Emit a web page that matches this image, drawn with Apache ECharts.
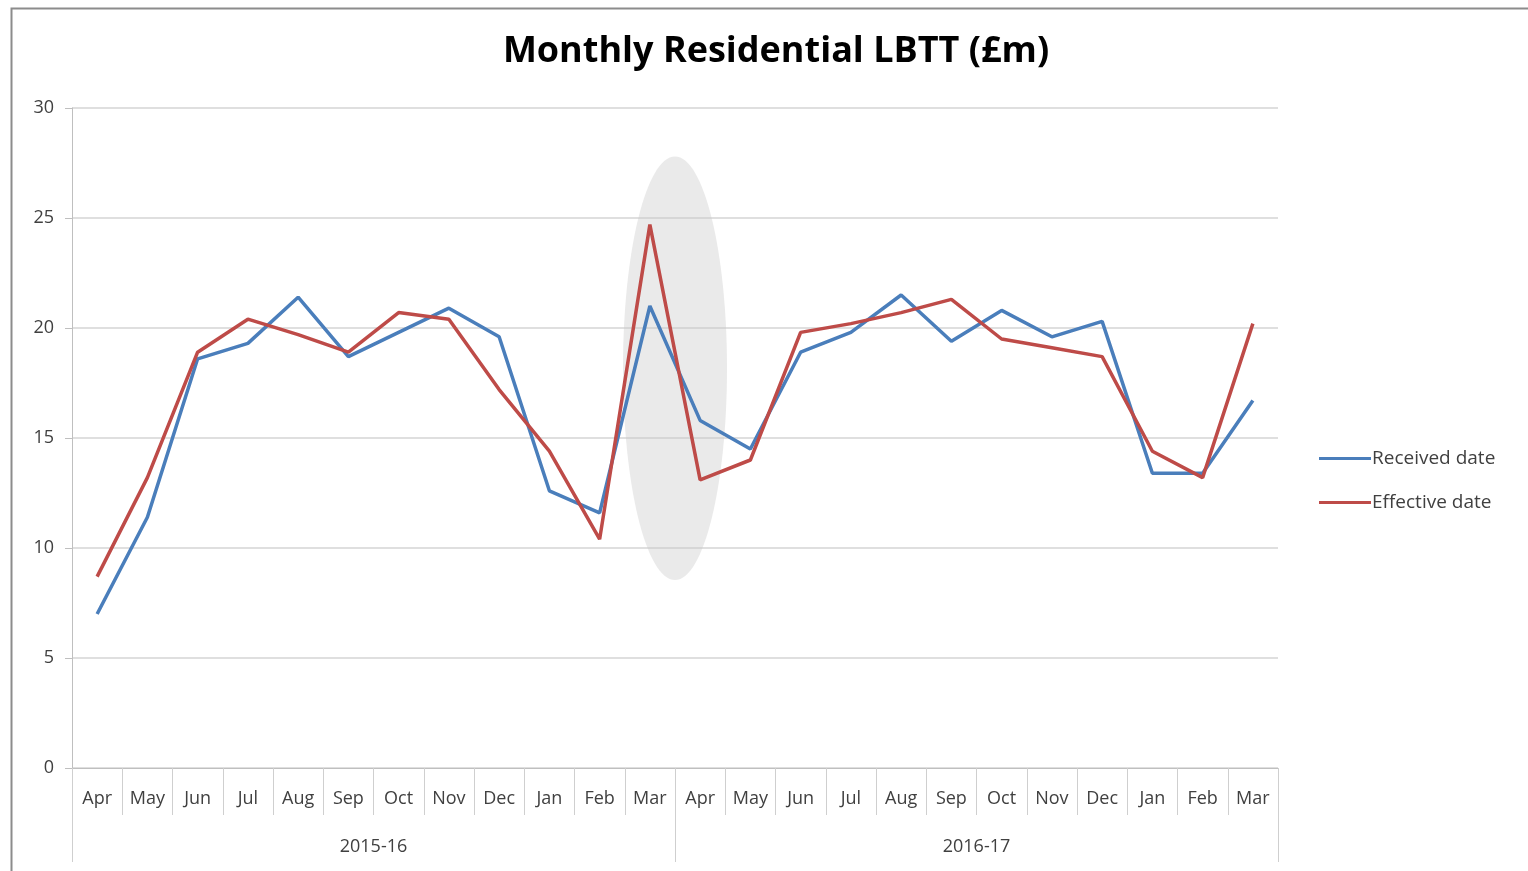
<!DOCTYPE html>
<html>
<head>
<meta charset="utf-8">
<title>Monthly Residential LBTT</title>
<script src="https://cdn.jsdelivr.net/npm/echarts@6/dist/echarts.min.js"></script>
<style>
html, body { margin: 0; padding: 0; background: #fff; }
#chart { width: 1528px; height: 871px; }
</style>
</head>
<body>
<div id="chart"></div>
<script>
// month labels, two financial years
const months = ['Apr', 'May', 'Jun', 'Jul', 'Aug', 'Sep', 'Oct', 'Nov', 'Dec', 'Jan', 'Feb', 'Mar',
  'Apr', 'May', 'Jun', 'Jul', 'Aug', 'Sep', 'Oct', 'Nov', 'Dec', 'Jan', 'Feb', 'Mar']
const years = ['2015-16', '2016-17']
// £m
const receivedData = [7.0, 11.4, 18.6, 19.3, 21.4, 18.7, 19.8, 20.9, 19.6, 12.6, 11.6, 21.0,
  15.8, 14.5, 18.9, 19.8, 21.5, 19.4, 20.8, 19.6, 20.3, 13.4, 13.4, 16.7]
const effectiveData = [8.7, 13.2, 18.9, 20.4, 19.7, 18.9, 20.7, 20.4, 17.2, 14.4, 10.4, 24.7,
  13.1, 14.0, 19.8, 20.2, 20.7, 21.3, 19.5, 19.1, 18.7, 14.4, 13.2, 20.2]
const yTicks = [0, 5, 10, 15, 20, 25, 30]

const labelFont = 'Open Sans'
const chart = echarts.init(document.getElementById('chart'))

chart.setOption({
  animation: false,
  title: {
    text: 'Monthly Residential LBTT (£m)',
    left: 771,
    top: 29,
    textAlign: 'center',
    textStyle: { fontFamily: labelFont, fontSize: 36, fontWeight: 'bold', color: '#000' }
  },
  legend: {
    orient: 'vertical',
    left: 1314,
    top: 444,
    itemWidth: 52,
    itemHeight: 3,
    itemGap: 25,
    icon: 'rect',
    textStyle: { fontFamily: labelFont, fontSize: 19, color: '#404040', padding: [0, 0, 0, -4] },
    data: ['Received date', 'Effective date']
  },
  grid: { left: 72, right: 250, top: 108, bottom: 103 },
  xAxis: [
    {
      type: 'category',
      data: months,
      boundaryGap: true,
      axisLine: { show: true, lineStyle: { color: '#bfbfbf', width: 1 } },
      axisTick: { show: true, interval: 0, length: 47, lineStyle: { color: '#cfcfcf', width: 1 } },
      axisLabel: { interval: 0, margin: 22, fontFamily: labelFont, fontSize: 18, color: '#404040' },
      splitLine: { show: false }
    },
    {
      type: 'category',
      data: years,
      position: 'bottom',
      boundaryGap: true,
      axisLine: { show: false },
      axisTick: { show: true, interval: 0, length: 94, lineStyle: { color: '#cfcfcf', width: 1 } },
      axisLabel: { interval: 0, margin: 70, fontFamily: labelFont, fontSize: 18, color: '#404040' }
    }
  ],
  yAxis: {
    type: 'value',
    min: yTicks[0],
    max: yTicks[yTicks.length - 1],
    interval: 5,
    axisLine: { show: true, lineStyle: { color: '#bfbfbf' } },
    axisTick: { show: true, length: 7, lineStyle: { color: '#bfbfbf' } },
    axisLabel: { margin: 18, fontFamily: labelFont, fontSize: 18, color: '#404040' },
    splitLine: { lineStyle: { color: '#d4d4d4', width: 1.5 } }
  },
  series: [
    {
      name: 'Received date',
      type: 'line',
      data: receivedData,
      symbol: 'none',
      z: 3,
      lineStyle: { color: '#4a7ebb', width: 3.5 },
      itemStyle: { color: '#4a7ebb' }
    },
    {
      name: 'Effective date',
      type: 'line',
      data: effectiveData,
      symbol: 'none',
      z: 4,
      lineStyle: { color: '#be4b48', width: 3.5 },
      itemStyle: { color: '#be4b48' }
    }
  ]
})

// highlight ellipse around the Mar / Apr year-end, placed through the axes
const pMar = chart.convertToPixel({ xAxisIndex: 0, yAxisIndex: 0 }, [11, 27.8])
const pApr = chart.convertToPixel({ xAxisIndex: 0, yAxisIndex: 0 }, [12, 8.55])
const cx = (pMar[0] + pApr[0]) / 2
const cy = (pMar[1] + pApr[1]) / 2
chart.setOption({
  graphic: [
    {
      type: 'rect',
      left: 9,
      top: 6,
      z: -10,
      silent: true,
      shape: { x: 0, y: 0, width: 1560, height: 900 },
      style: { fill: 'none', stroke: '#8c8c8c', lineWidth: 2 }
    },
    {
      type: 'ellipse',
      z: 1,
      silent: true,
      shape: { cx: cx, cy: cy, rx: 52, ry: (pApr[1] - pMar[1]) / 2 },
      style: { fill: 'rgba(200,200,200,0.38)' }
    }
  ]
})
</script>
</body>
</html>
